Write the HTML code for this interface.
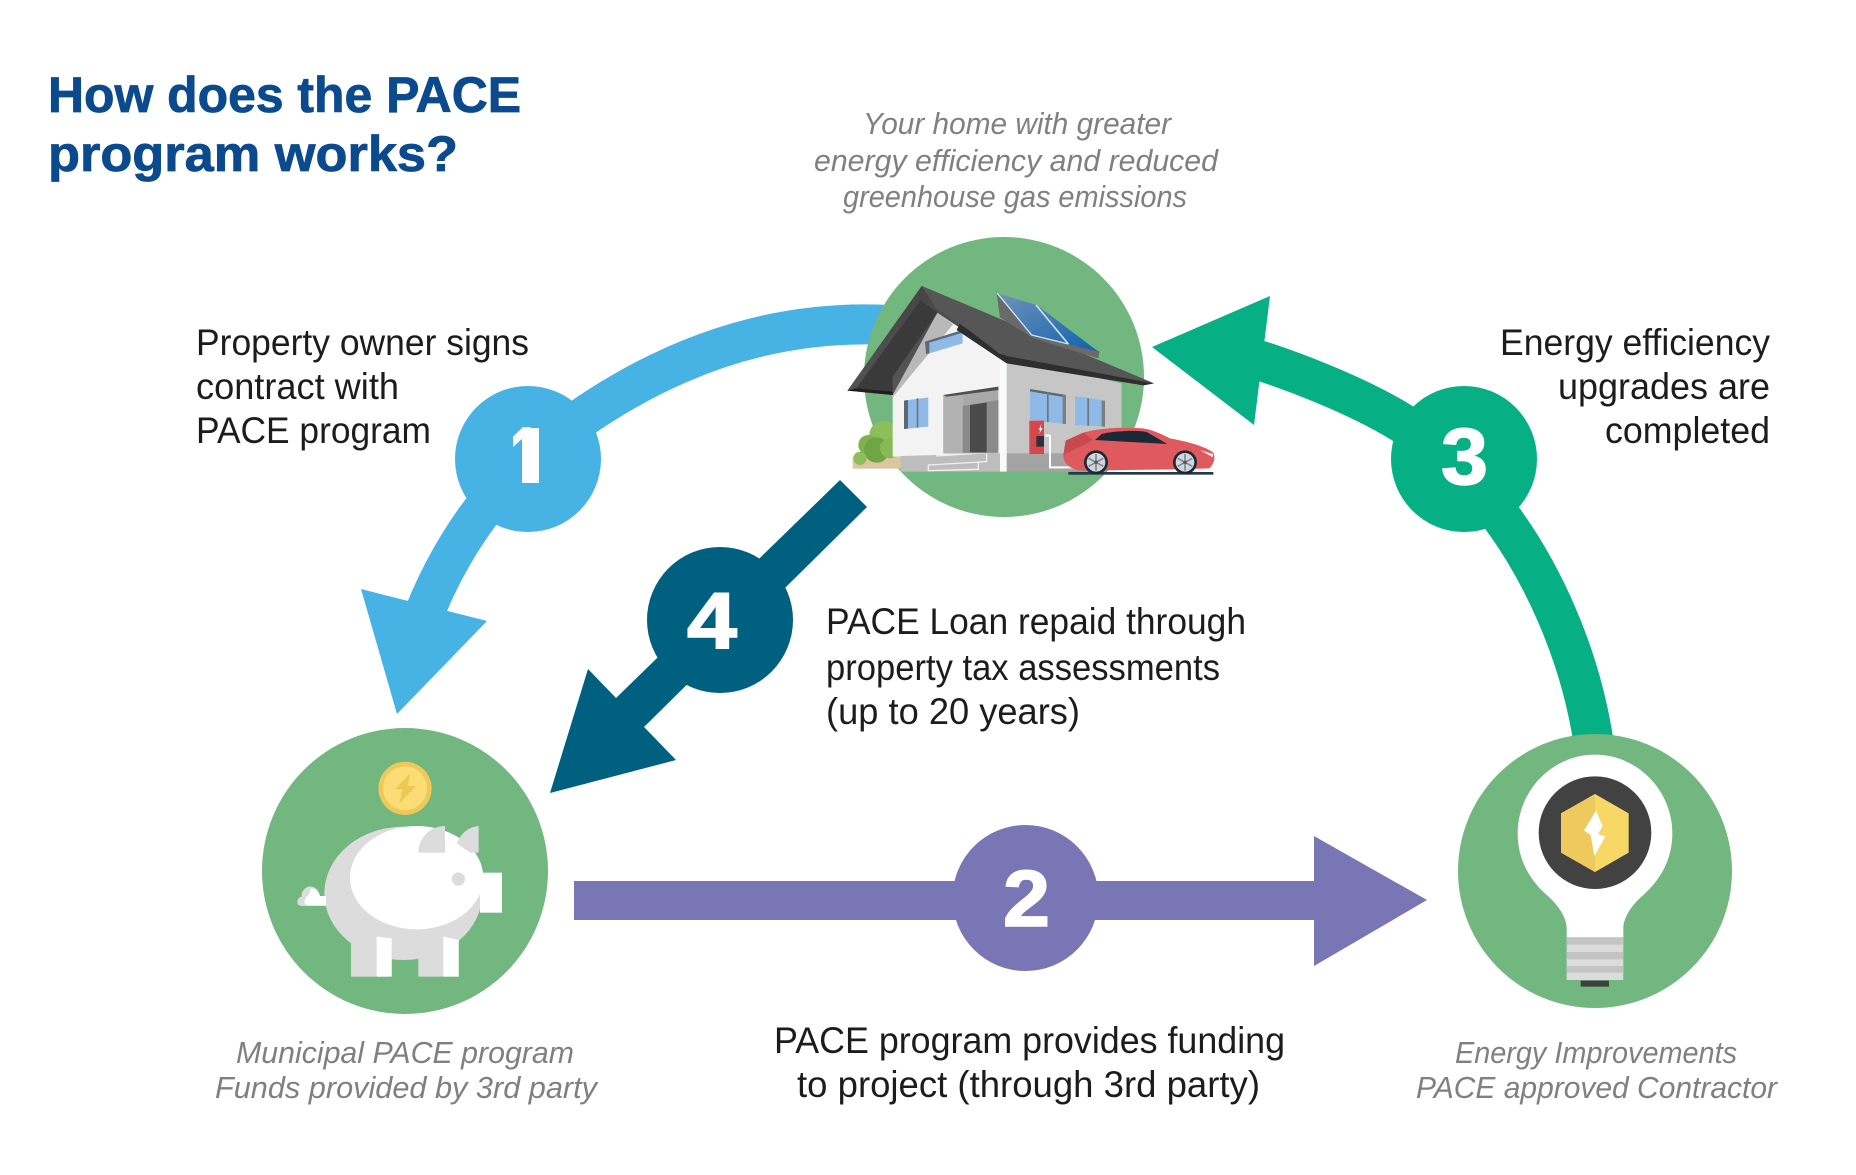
<!DOCTYPE html>
<html lang="en">
<head>
<meta charset="utf-8">
<title>How does the PACE program works?</title>
<style>
html,body{margin:0;padding:0;background:#fff;}
svg{display:block;}
text{font-family:"Liberation Sans",sans-serif;}
.t{font-size:37px;fill:#1c1c1c;}
.g{font-size:31px;fill:#808080;font-style:italic;}
.h{font-size:50px;font-weight:bold;fill:#0c4a8e;stroke:#0c4a8e;stroke-width:.8px;}
.n{font-size:80px;font-weight:bold;fill:#fff;stroke:#fff;stroke-width:1.6px;}
</style>
</head>
<body>
<svg width="1856" height="1175" viewBox="0 0 1856 1175" xmlns="http://www.w3.org/2000/svg">
<defs>
<linearGradient id="sol" x1="0" y1="0" x2="1" y2="1"><stop offset="0" stop-color="#6f93b8"/><stop offset="1" stop-color="#0f62b0"/></linearGradient>
<linearGradient id="roof" x1="0" y1="0" x2="1" y2="1"><stop offset="0" stop-color="#3f3f3f"/><stop offset="1" stop-color="#6a6a6a"/></linearGradient>
<clipPath id="one"><rect x="505" y="420" width="34" height="50"/></clipPath>
</defs>
<rect width="1856" height="1175" fill="#fff"/>

<!-- title -->
<text class="h" x="48" y="112" textLength="473" lengthAdjust="spacingAndGlyphs">How does the PACE</text>
<text class="h" x="48" y="171" textLength="410" lengthAdjust="spacingAndGlyphs">program works?</text>

<!-- arrow 1 -->
<path d="M890 325C760 318 640 365 528 459C485 500 445 555 418 630" fill="none" stroke="#47b2e4" stroke-width="40"/>
<polygon points="361,589 487,621 397,714" fill="#47b2e4"/>
<circle cx="528" cy="459" r="73" fill="#47b2e4"/>

<!-- arrow 4 -->
<polygon points="840,480 867,507 644,727 615,699" fill="#00607f"/>
<polygon points="588,669 676,760 550,793" fill="#00607f"/>
<circle cx="720" cy="620" r="73" fill="#00607f"/>

<!-- arrow 2 -->
<rect x="574" y="881" width="745" height="39" fill="#7a75b5"/>
<polygon points="1314,836 1427,900 1314,966" fill="#7a75b5"/>
<circle cx="1025.500" cy="898" r="73" fill="#7a75b5"/>

<!-- arrow 3 -->
<path d="M1225 350C1290 368 1360 397 1402 423C1425 438 1445 450 1464 459C1475 470 1490 500 1502 518C1540 570 1580 650 1594 745" fill="none" stroke="#06b084" stroke-width="40"/>
<polygon points="1152,347 1270,296 1254,425" fill="#06b084"/>
<circle cx="1464" cy="459" r="73" fill="#06b084"/>

<!-- numerals -->
<text class="n" x="510" y="483" textLength="30" lengthAdjust="spacingAndGlyphs" clip-path="url(#one)">1</text>
<rect x="522" y="428" width="17" height="55" fill="#fff"/>
<text class="n" x="1003" y="926" textLength="47" lengthAdjust="spacingAndGlyphs">2</text>
<text class="n" x="1441" y="484" textLength="47" lengthAdjust="spacingAndGlyphs">3</text>
<text class="n" x="687" y="648" textLength="50" lengthAdjust="spacingAndGlyphs">4</text>

<!-- house circle -->
<circle cx="1004" cy="377" r="140" fill="#72b680"/>
<!-- house illustration -->
<g transform="translate(800,200) scale(.33333)">
  <rect x="158" y="770" width="145" height="36" fill="#dcc6a2"/>
  <circle cx="250" cy="705" r="42" fill="#8cbf5a"/>
  <circle cx="205" cy="735" r="30" fill="#7fb24f"/>
  <circle cx="230" cy="750" r="38" fill="#6fa544"/>
  <circle cx="270" cy="745" r="30" fill="#86ba55"/>
  <circle cx="180" cy="775" r="20" fill="#8cbf5a"/>
  <!-- right wall -->
  <polygon points="620,470 965,550 965,770 620,770" fill="#c6c6c6"/>
  <polygon points="620,760 965,760 965,800 800,815 620,815" fill="#a4a4a4"/>
  <!-- front wall -->
  <polygon points="278,530 415,340 490,385 620,480 620,770 278,770" fill="#f3f3f3"/>
  <polygon points="278,530 415,338 460,372 278,592" fill="#b9b9b9"/>
  <polygon points="600,480 620,480 620,815 600,815" fill="#fafafa"/>
  <polygon points="302,768 600,760 600,815 302,815" fill="#bdbdbd"/>
  <polyline points="408,768 560,758 560,785 385,795 385,812 535,808 535,787" fill="none" stroke="#f0f0f0" stroke-width="4"/>
  <!-- gable window -->
  <polygon points="375,425 488,390 488,430 382,462" fill="#8fb9e6"/>
  <polygon points="375,425 488,390 488,398 388,428 388,460 378,462" fill="#5f6770"/>
  <!-- roof -->
  <polygon points="365,258 1062,550 1030,556 620,478 412,338 278,585 142,572" fill="url(#roof)"/>
  <polygon points="362,300 412,338 278,530 278,585 165,570" fill="#3a3a3a"/>
  <polygon points="600,462 620,466 1062,550 1030,556 620,490 470,390 480,370" fill="#2e2e2e"/>
  <polygon points="365,258 1062,550 620,468 480,372 412,330" fill="#565656"/>
  <polygon points="142,572 165,565 278,575 278,585" fill="#1e1e1e"/>
  <!-- solar -->
  <polygon points="590,282 600,352 700,415 895,475 898,455" fill="#6a6a6a"/>
  <polygon points="592,280 710,315 895,455 805,432 690,405" fill="url(#sol)"/>
  <polyline points="592,280 695,405 805,432" fill="none" stroke="#cfe2ee" stroke-width="4"/>
  <line x1="708" y1="315" x2="805" y2="432" stroke="#cfe2ee" stroke-width="5"/>
  <!-- porch -->
  <polygon points="430,585 595,560 595,760 430,760" fill="#a8a8a8"/>
  <polygon points="430,585 490,590 490,760 430,760" fill="#b2b2b2"/>
  <polygon points="430,585 595,560 595,570 440,590" fill="#4e4e4e"/>
  <polygon points="488,618 595,600 595,758 488,758" fill="#8a8a8a"/>
  <polygon points="510,615 560,608 560,757 510,757" fill="#4a4a4a"/>
  <!-- windows -->
  <polygon points="312,602 385,592 385,680 312,687" fill="#8fb9e6"/>
  <polygon points="312,602 324,600 324,686 312,687" fill="#5f6770"/>
  <rect x="350" y="595" width="5" height="88" fill="#6b7580"/>
  <polygon points="690,567 798,585 798,672 690,660" fill="#8fb9e6"/>
  <polygon points="690,567 798,585 798,592 690,574" fill="#5f6770"/>
  <rect x="741" y="576" width="5" height="90" fill="#6b7580"/>
  <rect x="788" y="585" width="10" height="87" fill="#7d7d7d"/>
  <polygon points="825,588 915,602 915,680 825,675" fill="#8fb9e6"/>
  <rect x="862" y="595" width="5" height="82" fill="#6b7580"/>
  <rect x="905" y="602" width="10" height="78" fill="#7d7d7d"/>
  <!-- charger + cable -->
  <rect x="688" y="662" width="44" height="100" fill="#d6474c"/>
  <rect x="709" y="708" width="23" height="32" fill="#2c3238"/>
  <polygon points="724,672 716,690 721,690 717,702 728,684 722,684" fill="#fff"/>
  <path d="M735 707H750V802H830V742" fill="none" stroke="#fff" stroke-width="6"/>
  <!-- car -->
  <rect x="805" y="816" width="435" height="8" fill="#24394c"/>
  <path d="M790 765L797 722L850 698C890 685 960 680 1030 685C1060 690 1090 705 1112 716C1150 722 1215 738 1240 758C1248 775 1240 795 1228 805L1120 808L850 812C810 810 790 790 790 765Z" fill="#de5a5f"/>
  <path d="M885 720L905 702C945 692 1010 690 1040 696L1102 732Z" fill="#1d2836"/>
  <path d="M790 765L797 722L850 698L880 720L830 745Z" fill="#c84a50"/>
  <path d="M1200 750L1240 762L1238 772Z" fill="#fbe4e4"/>
  <g id="w1">
    <circle cx="888" cy="787" r="36" fill="#1d2836"/>
    <circle cx="888" cy="787" r="28" fill="#d3d7dd"/>
    <path d="M888 762V812M866 775L910 799M866 799L910 775" stroke="#7f8790" stroke-width="5"/>
    <circle cx="888" cy="787" r="5" fill="#555"/>
  </g>
  <circle cx="1155" cy="787" r="36" fill="#1d2836"/>
  <circle cx="1155" cy="787" r="28" fill="#d3d7dd"/>
  <path d="M1155 762V812M1133 775L1177 799M1133 799L1177 775" stroke="#7f8790" stroke-width="5"/>
  <circle cx="1155" cy="787" r="5" fill="#555"/>
</g>

<!-- piggy circle -->
<circle cx="405" cy="871" r="143" fill="#72b680"/>
<g transform="translate(240,720) scale(.33333)">
  <circle cx="495" cy="205" r="80" fill="#efc85a"/>
  <circle cx="495" cy="205" r="66" fill="#fbdc75"/>
  <polygon points="510,160 465,208 488,208 478,250 528,198 503,198" fill="#edc857"/>
  <ellipse cx="490" cy="520" rx="237" ry="200" fill="#dcdcdc"/>
  <rect x="333" y="650" width="122" height="120" fill="#dcdcdc"/>
  <rect x="535" y="650" width="121" height="120" fill="#dcdcdc"/>
  <polygon points="410,650 455,655 455,770 410,770" fill="#fff"/>
  <polygon points="610,650 656,660 656,770 610,770" fill="#fff"/>
  <ellipse cx="530" cy="473" rx="200" ry="155" fill="#fff"/>
  <rect x="720" y="458" width="66" height="120" fill="#fff"/>
  <path d="M535 398A80 80 0 0 1 615 318V398Z" fill="#dcdcdc"/>
  <path d="M650 370C665 335 690 320 716 318V398H690Z" fill="#dcdcdc"/>
  <circle cx="655" cy="477" r="20" fill="#dcdcdc"/>
  <path d="M258 528H240C235 505 220 498 205 500C190 505 183 520 185 530C170 532 165 558 185 558H258Z" fill="#dcdcdc"/>
  <path d="M258 528H240C235 510 222 505 212 505C212 515 208 525 200 530C188 545 195 556 205 556H258Z" fill="#fff"/>
</g>

<!-- bulb circle -->
<circle cx="1595" cy="871" r="137" fill="#72b680"/>
<g transform="translate(1440,720) scale(.33333)">
  <path d="M380 652V625C380 590 350 550 320 525C270 480 233 420 233 340C233 212 337 104 465 104C593 104 697 212 697 340C697 420 660 480 610 525C580 550 550 590 550 625V652Z" fill="#fff"/>
  <circle cx="465" cy="338" r="169" fill="#424242"/>
  <polygon points="465,222 566,280 566,398 465,456 363,398 363,280" fill="#f7d766"/>
  <polygon points="465,222 363,280 363,398 465,456" fill="#edc95e"/>
  <polygon points="468,272 432,332 452,345 463,408 496,350 474,342 488,318" fill="#fff"/>
  <rect x="380" y="652" width="170" height="128" fill="#dcdcdc"/>
  <rect x="380" y="652" width="170" height="22" fill="#c4c4c4"/>
  <rect x="380" y="696" width="170" height="22" fill="#c4c4c4"/>
  <rect x="380" y="738" width="170" height="20" fill="#c4c4c4"/>
  <rect x="422" y="782" width="85" height="18" fill="#404040"/>
</g>

<!-- gray captions -->
<text class="g" x="863" y="134" textLength="308" lengthAdjust="spacingAndGlyphs">Your home with greater</text>
<text class="g" x="814" y="171" textLength="404" lengthAdjust="spacingAndGlyphs">energy efficiency and reduced</text>
<text class="g" x="843" y="207" textLength="344" lengthAdjust="spacingAndGlyphs">greenhouse gas emissions</text>
<text class="g" x="236" y="1063" textLength="338" lengthAdjust="spacingAndGlyphs">Municipal PACE program</text>
<text class="g" x="215" y="1098" textLength="382" lengthAdjust="spacingAndGlyphs">Funds provided by 3rd party</text>
<text class="g" x="1455" y="1063" textLength="282" lengthAdjust="spacingAndGlyphs">Energy Improvements</text>
<text class="g" x="1416" y="1098" textLength="361" lengthAdjust="spacingAndGlyphs">PACE approved Contractor</text>

<!-- black labels -->
<text class="t" x="196" y="355" textLength="333" lengthAdjust="spacingAndGlyphs">Property owner signs</text>
<text class="t" x="196" y="399" textLength="203" lengthAdjust="spacingAndGlyphs">contract with</text>
<text class="t" x="196" y="443" textLength="235" lengthAdjust="spacingAndGlyphs">PACE program</text>
<text class="t" x="1500" y="355" textLength="270" lengthAdjust="spacingAndGlyphs">Energy efficiency</text>
<text class="t" x="1558" y="399" textLength="212" lengthAdjust="spacingAndGlyphs">upgrades are</text>
<text class="t" x="1605" y="443" textLength="165" lengthAdjust="spacingAndGlyphs">completed</text>
<text class="t" x="826" y="634" textLength="420" lengthAdjust="spacingAndGlyphs">PACE Loan repaid through</text>
<text class="t" x="826" y="680" textLength="394" lengthAdjust="spacingAndGlyphs">property tax assessments</text>
<text class="t" x="826" y="724" textLength="254" lengthAdjust="spacingAndGlyphs">(up to 20 years)</text>
<text class="t" x="774" y="1053" textLength="511" lengthAdjust="spacingAndGlyphs">PACE program provides funding</text>
<text class="t" x="797" y="1097" textLength="463" lengthAdjust="spacingAndGlyphs">to project (through 3rd party)</text>
</svg>
</body>
</html>
